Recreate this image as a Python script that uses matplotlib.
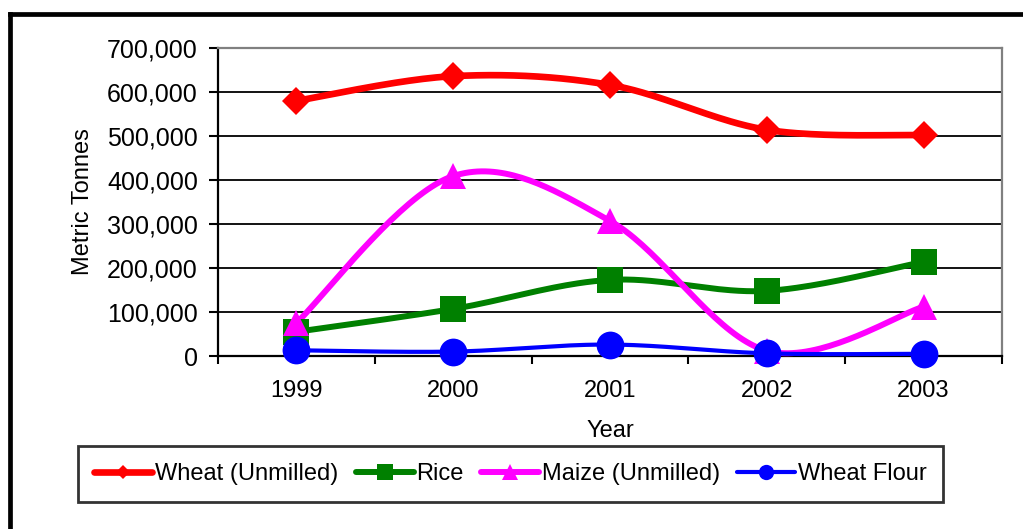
import numpy as np
import matplotlib
matplotlib.use("Agg")
import matplotlib.pyplot as plt
from matplotlib.lines import Line2D

years = ["1999", "2000", "2001", "2002", "2003"]
wheat = [580000, 636000, 616000, 514000, 502000]
rice = [55000, 107000, 173000, 148000, 214000]
maize = [75000, 409000, 307000, 12000, 112000]
flour = [13000, 10000, 26000, 6000, 5000]
series_names = ["Wheat (Unmilled)", "Rice", "Maize (Unmilled)", "Wheat Flour"]
yticks = list(range(0, 700001, 100000))

plt.rcParams['font.family'] = ['Liberation Sans', 'DejaVu Sans']
FS = 17

def smooth(xs, ys, n=40):
    P = np.column_stack([xs, ys]).astype(float)
    P_ext = np.vstack([P[0], P, P[-1]])
    out = []
    t = np.linspace(0, 1, n)[:, None]
    for i in range(len(P) - 1):
        p0, p1, p2, p3 = P_ext[i], P_ext[i+1], P_ext[i+2], P_ext[i+3]
        c1 = p1 + (p2 - p0) / 6.0
        c2 = p2 - (p3 - p1) / 6.0
        seg = ((1-t)**3)*p1 + 3*((1-t)**2)*t*c1 + 3*(1-t)*t**2*c2 + t**3*p2
        out.append(seg if i == 0 else seg[1:])
    out = np.vstack(out)
    return out[:, 0], out[:, 1]

fig = plt.figure(figsize=(10.23, 5.29), dpi=100)
ax = fig.add_axes([218/1023, 1-356/529, (1002-218)/1023, (356-48)/529])

x = np.arange(len(years))
styles = [
    (wheat, "#FF0000", "D", 14, 4.8, 7),
    (rice, "#008000", "s", 19, 4.3, 11.5),
    (maize, "#FF00FF", "^", 19, 4.3, 11),
    (flour, "#0000FF", "o", 20, 3.0, 11),
]
handles = []
for (vals, col, mk, ms, lw, lms), name in zip(styles, series_names):
    sx, sy = smooth(x, vals)
    ax.plot(sx, sy, color=col, lw=lw, solid_capstyle='round', zorder=3, clip_on=False)
    ax.plot(x, vals, linestyle='none', marker=mk, markersize=ms, color=col,
            markeredgewidth=0, zorder=4, clip_on=False)
    handles.append(Line2D([], [], color=col, lw=lw, marker=mk, markersize=lms,
                          markeredgewidth=0, solid_capstyle='round'))

ax.set_xlim(-0.5, len(years) - 0.5)
ax.set_ylim(0, 700000)
ax.set_yticks(yticks)
ax.set_yticklabels([f"{v:,}" for v in yticks], fontsize=18)
ax.set_xticks(np.arange(-0.5, len(years), 1.0))
ax.set_xticklabels([])
ax.set_xticks(x, minor=True)
ax.set_xticklabels(years, minor=True, fontsize=FS)
ax.tick_params(axis='x', which='major', direction='out', length=6, width=1.5, color='black')
ax.tick_params(axis='x', which='minor', length=0, pad=17)
ax.tick_params(axis='y', direction='out', length=6.5, width=1.5, pad=8)
ax.yaxis.grid(True, color='black', lw=1.3)
ax.set_axisbelow(True)
for s in ['left', 'bottom']:
    ax.spines[s].set_color('black')
    ax.spines[s].set_linewidth(1.6)
for s in ['top', 'right']:
    ax.spines[s].set_color('#808080')
    ax.spines[s].set_linewidth(1.6)
    ax.spines[s].set_zorder(2.5)

ax.set_ylabel("Metric Tonnes", fontsize=FS, labelpad=9)
ax.set_xlabel("Year", fontsize=FS, labelpad=13)

leg = fig.legend(handles, series_names, loc='center', ncol=4,
                 bbox_to_anchor=((78+943)/2/1023, 1-474/529),
                 fontsize=FS, frameon=True, fancybox=False, edgecolor='black',
                 handlelength=2.46, handletextpad=0.12, columnspacing=0.72,
                 borderpad=0.7, borderaxespad=0)
leg.get_frame().set_linewidth(2.0)

# outer frame (left and top edges)
fig.add_artist(Line2D([10/1023, 10/1023], [0, 1-14/529], transform=fig.transFigure,
                      color='black', lw=3.4, solid_capstyle='projecting'))
fig.add_artist(Line2D([10/1023, 1.0], [1-14/529, 1-14/529], transform=fig.transFigure,
                      color='black', lw=3.4, solid_capstyle='projecting'))

fig.savefig("out.png", dpi=100)
